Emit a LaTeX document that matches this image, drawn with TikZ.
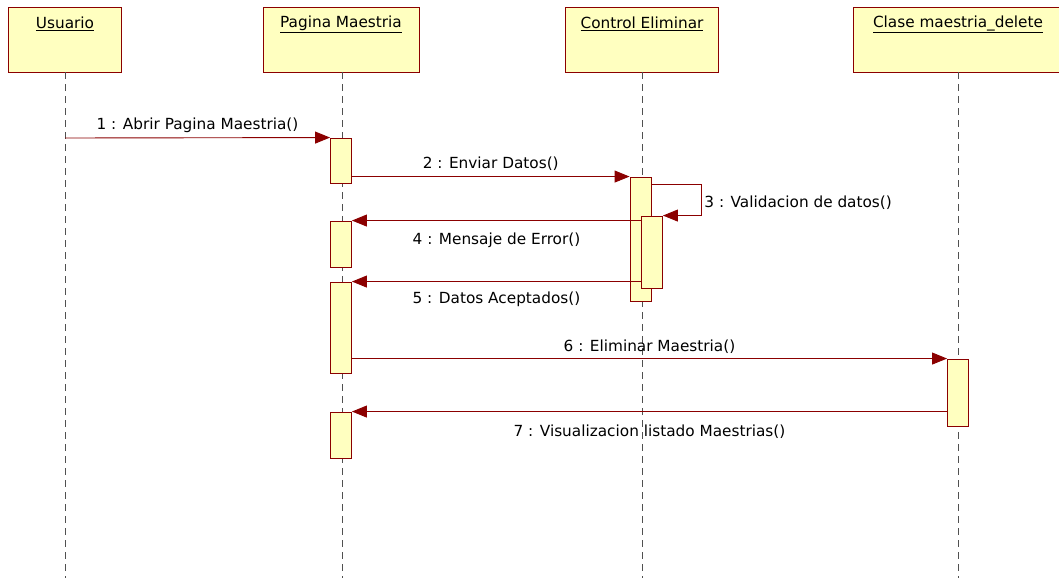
\documentclass[tikz,border=0pt]{standalone}
\usepackage{fontspec}
\setmainfont{DejaVu Sans}
\usetikzlibrary{arrows.meta}
\definecolor{umlfill}{HTML}{FFFFC0}
\definecolor{umlline}{HTML}{8B0000}
\definecolor{lifegray}{HTML}{505050}
\begin{document}
\begin{tikzpicture}[x=1pt,y=-1pt,
  font=\fontsize{15.3}{17}\selectfont,
  head/.style={draw=umlline, fill=umlfill, line width=0.9pt, rectangle, inner sep=0pt},
  headtext/.style={anchor=center, inner sep=0pt},
  act/.style={draw=umlline, fill=umlfill, line width=0.9pt, rectangle, inner sep=0pt, minimum width=21pt},
  life/.style={draw=lifegray, line width=0.9pt, dash pattern=on 7pt off 5pt},
  msg/.style={draw=umlline, line width=0.9pt, -{Triangle[length=15pt,width=12pt]}},
  lab/.style={inner sep=0pt, text=black}]
\useasboundingbox (0,0) rectangle (1059,578);
% heads
\node[head, minimum width=113pt, minimum height=65pt] (usuario) at (64.5,39.5) {};
\node[head, minimum width=156pt, minimum height=65pt] (pagina) at (341,39.5) {};
\node[head, minimum width=153pt, minimum height=65pt] (control) at (641.5,39.5) {};
\node[head, minimum width=210pt, minimum height=65pt] (clase) at (958,39.5) {};
\node[headtext] (tu) at (65,24) {\underline{Usuario}};
\node[headtext] (tp) at (341,24) {\underline{Pagina Maestria}};
\node[headtext] (tc) at (642,24) {\underline{Control Eliminar}};
\node[headtext] (tcl) at (958,24) {\underline{Clase maestria\_delete}};
% lifelines
\coordinate (eu) at (65,578);
\coordinate (ep) at (342,578);
\coordinate (ec) at (642,578);
\coordinate (ecl) at (958,578);
\draw[life] (65,72) -- (eu);
\draw[life] (342,72) -- (ep);
\draw[life] (642,72) -- (ec);
\draw[life] (958,72) -- (ecl);
% activations
\node[act, minimum height=45pt] (a1) at (341,160.5) {};
\node[act, minimum height=46pt] (a2) at (341,244) {};
\node[act, minimum height=91pt] (a3) at (341,327.5) {};
\node[act, minimum height=46pt] (a4) at (341,435) {};
\node[act, minimum height=124pt] (c1) at (640.5,239) {};
\node[act, minimum height=72pt] (c2) at (652,252) {};
\node[act, minimum height=67pt] (d1) at (958,392.5) {};
% messages
\coordinate (u1) at (65,138);
\draw[msg] (u1) -- node[lab, above=5pt] (l1) {1 : Abrir Pagina Maestria()} (a1.north west);
\draw[msg] (a1.east |- c1.north) -- node[lab, above=6pt] (l2) {2 : Enviar Datos()} (c1.north west);
\coordinate (s3) at (651,184);
\draw[msg] (s3) -- ++(50,0) |- node[lab, pos=0.3, right=3pt] (l3) {3 : Validacion de datos()} (c2.north east);
\draw[msg] (c2.west |- a2.north) -- node[lab, below=12pt] (l4) {4 : Mensaje de Error()} (a2.north east);
\draw[msg] (c2.west |- a3.north) -- node[lab, below=10pt] (l5) {5 : Datos Aceptados()} (a3.north east);
\draw[msg] (a3.east |- d1.north) -- node[lab, above=5pt] (l6) {6 : Eliminar Maestria()} (d1.north west);
\draw[msg] (d1.west |- a4.north) -- node[lab, below=13pt] (l7) {7 : Visualizacion listado Maestrias()} (a4.north east);
\end{tikzpicture}
\end{document}
